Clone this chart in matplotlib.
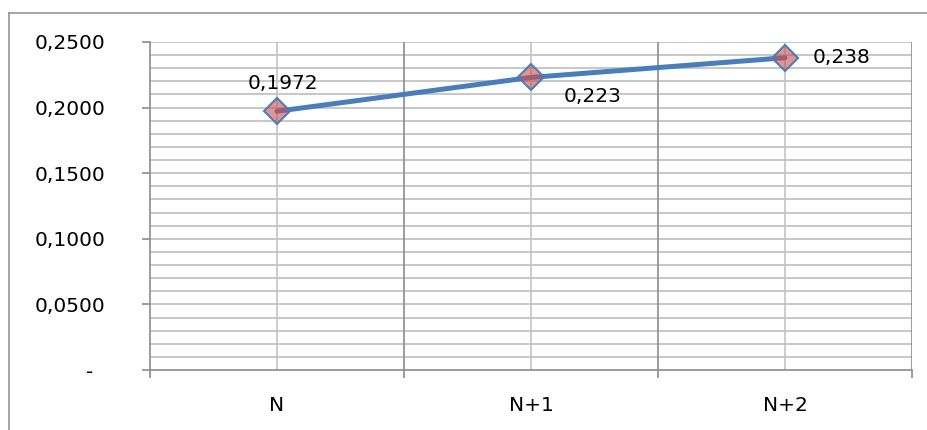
import matplotlib
matplotlib.use("Agg")
import matplotlib.pyplot as plt
from matplotlib.lines import Line2D

categories = ["N", "N+1", "N+2"]
values = [0.1972, 0.223, 0.238]
value_labels = ["0,1972", "0,223", "0,238"]
ytick_values = [0.0, 0.05, 0.10, 0.15, 0.20, 0.25]
ytick_labels = ["-  ", "0,0500", "0,1000", "0,1500", "0,2000", "0,2500"]

plt.rcParams['font.family'] = ['DejaVu Sans']

fig = plt.figure(figsize=(9.28, 4.30), dpi=100)
W, H = 928.0, 430.0

# outer chart frame (only top and left edges are inside the picture)
top = 1 - 12.5 / H
fig.lines.append(Line2D([9.5 / W, 1.0], [top, top], transform=fig.transFigure,
                        color='#8c8c8c', linewidth=1.1))
fig.lines.append(Line2D([9.5 / W, 9.5 / W], [0.0, top], transform=fig.transFigure,
                        color='#8c8c8c', linewidth=1.1))

ax = fig.add_axes([150 / W, 60 / H, 762 / W, 328 / H])
ax.set_xlim(-0.5, 2.5)
ax.set_ylim(0, 0.25)

# horizontal grid every 0.01
for k in range(1, 26):
    ax.axhline(k * 0.01, color='#bdbdbd', linewidth=1.2, zorder=0)
# vertical grid: light at category centres, darker at boundaries
for i in range(len(categories)):
    ax.axvline(i, color='#c4c4c4', linewidth=1.2, zorder=0)
for b in [0.5, 1.5, 2.5]:
    ax.axvline(b, color='#8c8c8c', linewidth=1.2, zorder=0)

for s in ['top', 'right']:
    ax.spines[s].set_visible(False)
for s in ['left', 'bottom']:
    ax.spines[s].set_color('#8c8c8c')
    ax.spines[s].set_linewidth(1.2)

ax.set_yticks(ytick_values)
ax.set_yticklabels(ytick_labels, fontsize=14.5)
ax.tick_params(axis='y', length=6, width=1.2, color='#8c8c8c', pad=26)

ax.set_xticks([-0.5, 0.5, 1.5, 2.5])
ax.set_xticklabels([])
ax.tick_params(axis='x', which='major', length=6, width=1.2, color='#8c8c8c')
ax.set_xticks(range(len(categories)), minor=True)
ax.set_xticklabels(categories, minor=True, fontsize=14.5)
ax.tick_params(axis='x', which='minor', length=0, pad=19)

x = list(range(len(categories)))
ax.plot(x, values, color='#4a7ebb', linewidth=3.6, solid_capstyle='round', zorder=3)
ax.plot(x, values, linestyle='none', marker='D', markersize=13,
        markerfacecolor=(0.80, 0.30, 0.30, 0.6), markeredgecolor='#4a7ebb',
        markeredgewidth=1.5, zorder=4)

offsets = [(4, 20, 'center', 'center'), (44, -14, 'center', 'center'), (20, 0, 'left', 'center')]
for xi, v, lab, (dx, dy, ha, va) in zip(x, values, value_labels, offsets):
    ax.annotate(lab, (xi, v), xytext=(dx, dy), textcoords='offset points',
                ha=ha, va=va, fontsize=14.5, color='black', zorder=5)

fig.savefig("out.png", dpi=100)
